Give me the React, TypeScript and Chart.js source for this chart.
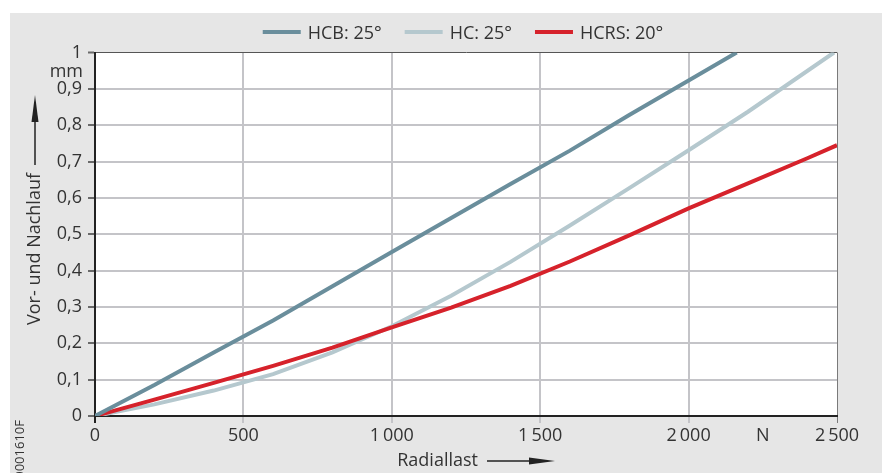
import React, { useEffect, useRef } from 'react';
import { Chart, registerables } from 'chart.js';

Chart.register(...registerables);

const FONT = "'Open Sans', 'Noto Sans', 'DejaVu Sans', sans-serif";

// ---- data ----
const seriesNames = ['HCB: 25°', 'HC: 25°', 'HCRS: 20°'];
const seriesColors = ['#6a8e9c', '#b5c8ce', '#d6222b'];

const hcbX = [0, 200, 400, 600, 800, 1000, 1200, 1400, 1600, 1800, 2000, 2162];
const hcbY = [0, 0.085, 0.175, 0.263, 0.357, 0.451, 0.545, 0.638, 0.73, 0.828, 0.923, 1.0];

const hcX = [0, 200, 400, 600, 800, 1000, 1200, 1400, 1600, 1800, 2000, 2200, 2490];
const hcY = [0, 0.032, 0.07, 0.115, 0.175, 0.247, 0.331, 0.424, 0.524, 0.627, 0.731, 0.837, 1.0];

const hcrsX = [0, 200, 400, 600, 800, 1000, 1200, 1400, 1600, 1800, 2000, 2200, 2400, 2500];
const hcrsY = [0, 0.045, 0.091, 0.138, 0.188, 0.244, 0.298, 0.358, 0.425, 0.497, 0.571, 0.64, 0.709, 0.745];

const xTickValues = [0, 500, 1000, 1500, 2000, 2250, 2500];
const xTickLabels = ['0', '500', '1\u2009000', '1\u2009500', '2\u2009000', 'N', '2\u2009500'];

const yTickValues = [0, 0.1, 0.2, 0.3, 0.4, 0.5, 0.6, 0.7, 0.8, 0.9, 1];
const yTickLabels = ['0', '0,1', '0,2', '0,3', '0,4', '0,5', '0,6', '0,7', '0,8', '0,9', '1'];

const yUnit = 'mm';
const yTitle = 'Vor- und Nachlauf';
const xTitle = 'Radiallast';
const docCode = '0001610F';

const toPoints = (xs: number[], ys: number[]) => xs.map((x, i) => ({ x, y: ys[i] }));

export default function App() {
  const ref = useRef<HTMLCanvasElement>(null);

  useEffect(() => {
    const canvas = ref.current!;

    const decor = {
      id: 'decor',
      beforeDraw(chart: any) {
        const { ctx, chartArea: a } = chart;
        ctx.save();
        ctx.fillStyle = '#ffffff';
        ctx.fillRect(a.left, a.top, a.right - a.left, a.bottom - a.top);
        ctx.restore();
      },
      afterDraw(chart: any) {
        const { ctx, chartArea: a } = chart;
        ctx.save();
        ctx.fillStyle = '#333333';
        ctx.strokeStyle = '#222222';
        ctx.font = `18px ${FONT}`;

        // unit under top tick label
        ctx.textAlign = 'right';
        ctx.textBaseline = 'middle';
        ctx.fillText(yUnit, a.left - 12, a.top + 19);

        // legend
        const lineW = 38;
        const gapText = 7;
        const gapItem = 23;
        const widths = seriesNames.map((n) => ctx.measureText(n).width);
        const total = widths.reduce((s, w) => s + w + lineW + gapText, 0) + gapItem * (seriesNames.length - 1);
        let lx = 453 - total / 2;
        const ly = 19;
        ctx.textAlign = 'left';
        ctx.textBaseline = 'alphabetic';
        seriesNames.forEach((n, i) => {
          ctx.fillStyle = seriesColors[i];
          ctx.fillRect(lx, ly - 2, lineW, 4);
          ctx.fillStyle = '#333333';
          ctx.fillText(n, lx + lineW + gapText, ly + 7);
          lx += lineW + gapText + widths[i] + gapItem;
        });

        // y title with arrow
        const tx = 25;
        const tyTop = 160;
        ctx.save();
        ctx.translate(tx, tyTop);
        ctx.rotate(-Math.PI / 2);
        ctx.textAlign = 'right';
        ctx.textBaseline = 'middle';
        ctx.fillStyle = '#333333';
        ctx.fillText(yTitle, 0, 0);
        ctx.restore();
        ctx.lineWidth = 1.5;
        ctx.beginPath();
        ctx.moveTo(tx, 152);
        ctx.lineTo(tx, 100);
        ctx.stroke();
        ctx.fillStyle = '#222222';
        ctx.beginPath();
        ctx.moveTo(tx, 82);
        ctx.lineTo(tx - 3.5, 109);
        ctx.lineTo(tx + 3.5, 109);
        ctx.closePath();
        ctx.fill();

        // x title with arrow
        ctx.fillStyle = '#333333';
        ctx.textAlign = 'right';
        ctx.textBaseline = 'middle';
        ctx.fillText(xTitle, 468, 448);
        ctx.beginPath();
        ctx.moveTo(477, 448);
        ctx.lineTo(525, 448);
        ctx.stroke();
        ctx.fillStyle = '#222222';
        ctx.beginPath();
        ctx.moveTo(545, 448);
        ctx.lineTo(519, 444.5);
        ctx.lineTo(519, 451.5);
        ctx.closePath();
        ctx.fill();

        // document code
        ctx.save();
        ctx.font = `13px ${FONT}`;
        ctx.translate(10, 407);
        ctx.rotate(-Math.PI / 2);
        ctx.textAlign = 'right';
        ctx.textBaseline = 'middle';
        ctx.fillStyle = '#333333';
        ctx.fillText(docCode, 0, 0);
        ctx.restore();

        ctx.restore();
      },
    };

    const chart = new Chart(canvas, {
      type: 'line',
      data: {
        datasets: [
          { label: seriesNames[0], data: toPoints(hcbX, hcbY), borderColor: seriesColors[0], backgroundColor: seriesColors[0], borderWidth: 4, pointRadius: 0, tension: 0, order: 0 },
          { label: seriesNames[1], data: toPoints(hcX, hcY), borderColor: seriesColors[1], backgroundColor: seriesColors[1], borderWidth: 4, pointRadius: 0, tension: 0, order: 2 },
          { label: seriesNames[2], data: toPoints(hcrsX, hcrsY), borderColor: seriesColors[2], backgroundColor: seriesColors[2], borderWidth: 4, pointRadius: 0, tension: 0, order: 1 },
        ],
      },
      options: {
        animation: false,
        responsive: false,
        layout: { padding: { left: 0, right: 45, top: 39.5, bottom: 0 } },
        plugins: { legend: { display: false }, tooltip: { enabled: false } },
        font: { family: FONT },
        scales: {
          x: {
            type: 'linear',
            min: 0,
            max: 2500,
            afterBuildTicks: (s: any) => { s.ticks = xTickValues.map((v) => ({ value: v })); },
            afterFit: (s: any) => { s.height = 57; },
            ticks: {
              autoSkip: false,
              maxRotation: 0,
              padding: 2,
              color: '#333333',
              font: { family: FONT, size: 18 },
              callback: (v: any) => { const i = xTickValues.indexOf(Number(v)); return i >= 0 ? xTickLabels[i] : ''; },
            },
            grid: {
              drawTicks: true,
              tickLength: 7,
              color: (c: any) => {
                const v = c.tick?.value;
                if (v === 2250) return 'rgba(0,0,0,0)';
                if (v === 2500) return '#7a7a7a';
                if (v === 0) return '#222222';
                return '#c4c4c8';
              },
              lineWidth: (c: any) => (c.tick?.value === 2500 ? 1 : 2),
              tickColor: (c: any) => {
                const v = c.tick?.value;
                if (v === 2250) return 'rgba(0,0,0,0)';
                if (v === 2500) return '#7a7a7a';
                if (v === 0) return '#222222';
                return '#c4c4c8';
              },
            },
            border: { display: true, color: '#222222', width: 2 },
          },
          y: {
            type: 'linear',
            min: 0,
            max: 1,
            afterBuildTicks: (s: any) => { s.ticks = yTickValues.map((v) => ({ value: v })); },
            afterFit: (s: any) => { s.width = 85; },
            ticks: {
              autoSkip: false,
              padding: 6,
              color: '#333333',
              font: { family: FONT, size: 18 },
              callback: (v: any) => {
                const i = yTickValues.findIndex((t) => Math.abs(t - Number(v)) < 1e-6);
                return i >= 0 ? yTickLabels[i] : '';
              },
            },
            grid: {
              drawTicks: true,
              tickLength: 7,
              color: (c: any) => {
                const v = c.tick?.value;
                if (v === 1) return '#555555';
                if (v === 0) return '#222222';
                return '#c4c4c8';
              },
              lineWidth: (c: any) => (c.tick?.value === 1 ? 1 : 2),
              tickColor: '#6a6a6a',
              tickWidth: 2,
            },
            border: { display: true, color: '#222222', width: 2 },
          },
        },
      },
      plugins: [decor],
    } as any);

    return () => chart.destroy();
  }, []);

  return (
    <div style={{ position: 'absolute', left: 0, top: 0, width: 882, height: 473, background: '#ffffff', overflow: 'hidden' }}>
      <div style={{ position: 'absolute', left: 10, top: 13, width: 872, height: 460, background: '#e6e6e6' }}>
        <canvas ref={ref} width={872} height={460} style={{ display: 'block', width: 872, height: 460 }} />
      </div>
    </div>
  );
}
